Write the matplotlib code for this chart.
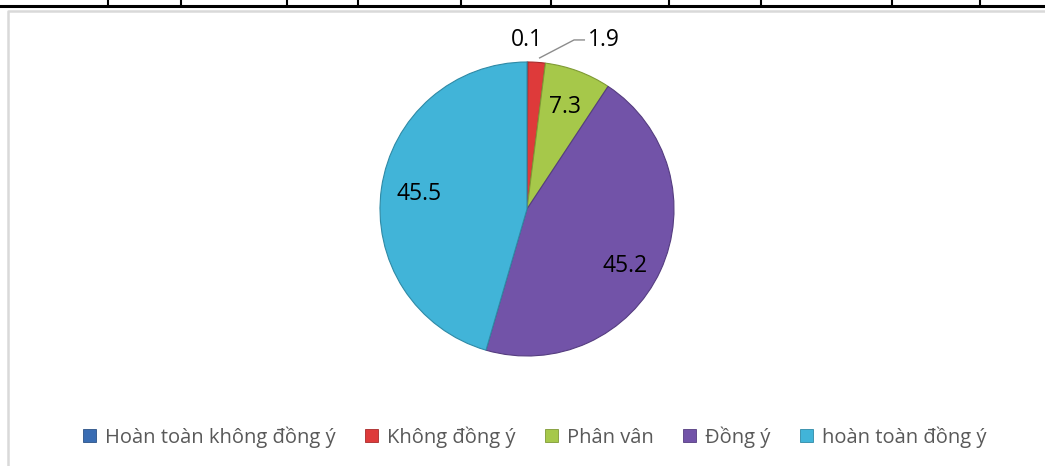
import matplotlib
matplotlib.use("Agg")
import matplotlib.pyplot as plt
import numpy as np
from matplotlib.lines import Line2D
from matplotlib.patches import Patch

# data
categories = ["Hoàn toàn không đồng ý", "Không đồng ý", "Phân vân", "Đồng ý", "hoàn toàn đồng ý"]
values = [0.1, 1.9, 7.3, 45.2, 45.5]
value_labels = ["0.1", "1.9", "7.3", "45.2", "45.5"]

COLORS = ["#3a6db3", "#de3a3a", "#a6c84a", "#7253a8", "#41b4d8"]
EDGE = ["#2c5286", "#a82a2a", "#7f9a35", "#553d80", "#2f8aa6"]
TEXT_GREY = "#595959"

W, H = 1045, 466
fig = plt.figure(figsize=(W / 100, H / 100), dpi=100)

# table border lines above the chart (page decoration)
for x_px in [108, 181, 287, 358, 461, 551, 669, 761, 892, 980]:
    fig.add_artist(Line2D([x_px / W, x_px / W], [1, 1 - 5 / H], color="black", lw=1.5))
fig.add_artist(Line2D([0, 1], [1 - 5.5 / H, 1 - 5.5 / H], color="black", lw=2.2))

# chart frame (runs off the right and bottom edge)
fig.add_artist(Line2D([7.5 / W, 7.5 / W, 1.01], [-0.01, 1 - 11 / H, 1 - 11 / H],
                      color="#d9d9d9", lw=1.8))

# pie axes
cx, cy, r = 527, 209, 147
ax = fig.add_axes([(cx - r) / W, (H - cy - r) / H, 2 * r / W, 2 * r / H])
wedges, _ = ax.pie(values, colors=COLORS, startangle=90, counterclock=False,
                   radius=1.0, wedgeprops=dict(linewidth=0.8))
for w, ec in zip(wedges, EDGE):
    w.set_edgecolor(ec)
ax.set_xlim(-1, 1)
ax.set_ylim(-1, 1)
ax.set_aspect("auto")
ax.axis("off")

label_font = dict(family="Open Sans", fontsize=16.5, color="black")
for i, (w, lab) in enumerate(zip(wedges, value_labels)):
    mid = np.deg2rad((w.theta1 + w.theta2) / 2)
    if values[i] >= 5:
        rr = 0.74
        if i == 3:
            # best-fit placement sits a bit lower in the reference
            mid -= np.deg2rad(5.5)
            rr = 0.77
        ax.text(rr * np.cos(mid), rr * np.sin(mid), lab, ha="center", va="center",
                clip_on=False, **label_font)
    elif i == 0:
        ax.text(0.0, 1.15, lab, ha="center", va="center", clip_on=False, **label_font)
    else:
        x0, y0 = np.cos(mid), np.sin(mid)
        tx, ty = 0.52, 1.15
        ax.add_line(Line2D([x0 + 0.02, tx - 0.2, tx - 0.13], [y0 + 0.03, ty, ty],
                           color="#8c8c8c", lw=1.0, clip_on=False))
        ax.text(tx, ty, lab, ha="center", va="center", clip_on=False, **label_font)

# legend
handles = [Patch(facecolor=c, edgecolor=e, linewidth=0.6) for c, e in zip(COLORS, EDGE)]
leg = fig.legend(handles, categories, loc="center", bbox_to_anchor=(535 / W, 1 - 437 / H),
                 ncol=5, frameon=False, handlelength=0.65, handleheight=0.65,
                 handletextpad=0.45, columnspacing=1.45,
                 prop=dict(family="Open Sans", size=14.5))
for t in leg.get_texts():
    t.set_color(TEXT_GREY)

fig.savefig("out.png", dpi=100)
